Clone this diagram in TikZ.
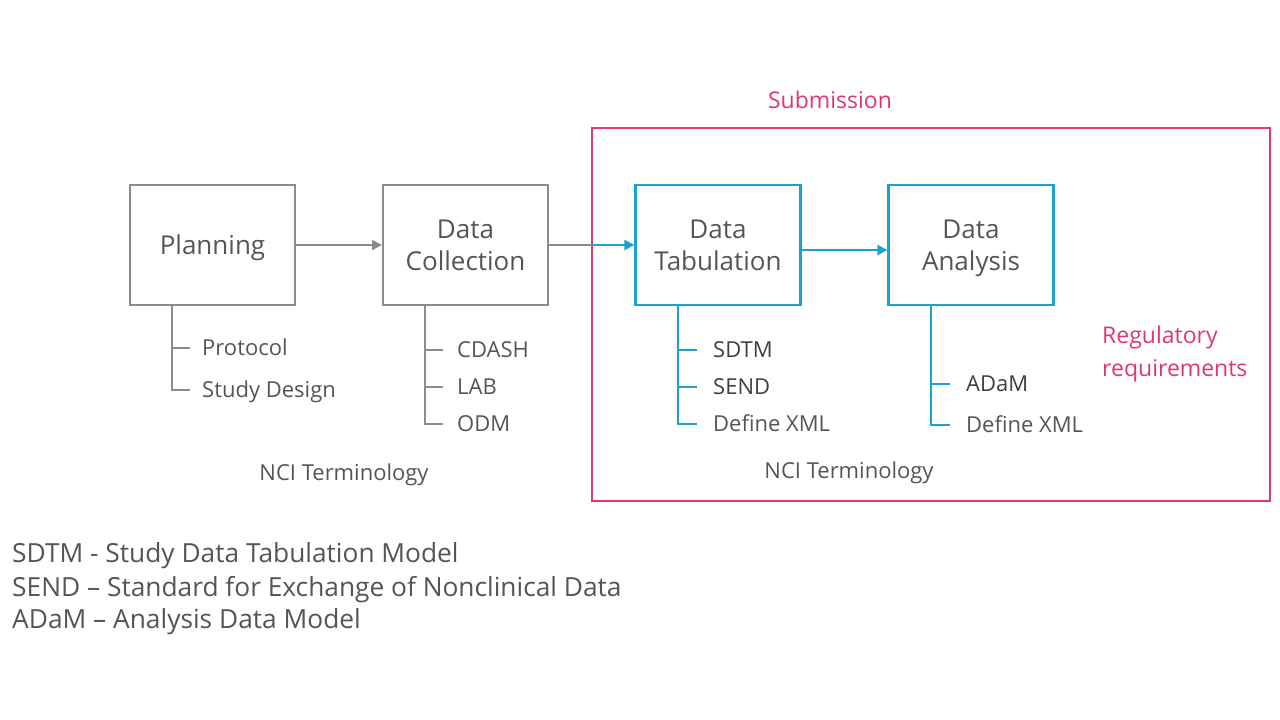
\documentclass[tikz,border=0pt]{standalone}
\usepackage{fontspec}
\setmainfont{Open Sans}
\usetikzlibrary{arrows.meta}
\definecolor{lgray}{HTML}{8C8C8C}
\definecolor{tgray}{HTML}{555555}
\definecolor{cblue}{HTML}{1DA1D0}
\definecolor{cpink}{HTML}{E0386C}
\newcommand{\bstrut}{\rule[-6.7pt]{0pt}{32pt}}
\newcommand{\rstrut}{\rule[-8.3pt]{0pt}{33pt}}
\tikzset{
  graybox/.style={draw=lgray, line width=2pt, minimum width=165pt, minimum height=120pt, inner sep=0pt, align=center, text=tgray, font=\fontsize{26}{32}\selectfont},
  bluebox/.style={graybox, draw=cblue, line width=2.2pt},
  grayline/.style={draw=lgray, line width=2pt},
  blueline/.style={draw=cblue, line width=2.4pt},
  grayarrow/.style={grayline, -{Triangle[length=10pt,width=10pt]}},
  bluearrow/.style={blueline, -{Triangle[length=10pt,width=10pt]}},
  item/.style={anchor=west, text=tgray, font=\fontsize{22}{26}\selectfont, inner sep=0pt, text height=15.8pt, text depth=0pt},
  bitem/.style={item, text=black!75},
  nci/.style={text=tgray, font=\fontsize{22}{26}\selectfont, inner sep=0pt, text height=15.8pt, text depth=0pt},
  pinktext/.style={text=cpink, font=\fontsize{23}{33}\selectfont, inner sep=0pt},
  legend/.style={anchor=west, text=tgray, font=\fontsize{26.3}{33}\selectfont, inner sep=0pt, text height=18.9pt, text depth=0pt}
}
\begin{document}
\begin{tikzpicture}[x=1pt,y=-1pt]
\useasboundingbox (0,0) rectangle (1280,720);
% pink submission frame
\draw[cpink, line width=2.4pt] (592,128) rectangle (1270,501);
\node[pinktext, text height=16.5pt, text depth=0pt] (sub) at (830,100) {Submission};
\node[pinktext, anchor=west, align=left] (reg) at (1102,351.5) {Regulatory\rstrut\\requirements\rstrut};

% boxes
\node[graybox] (plan) at (212.5,245) {Planning\bstrut};
\node[graybox] (coll) at (465.5,245) {Data\bstrut\\Collection\bstrut};
\node[bluebox] (tab) at (718,245) {Data\bstrut\\Tabulation\bstrut};
\node[bluebox] (ana) at (971,245) {Data\bstrut\\Analysis\bstrut};

% arrows
\draw[grayarrow] (plan.east) -- (coll.west);
\coordinate (border) at (592,245);
\draw[grayline] (coll.east) -- (border);
\draw[bluearrow] (border) -- (tab.west);
\draw[bluearrow] (tab.east |- 0,250) -- (ana.west |- 0,250);

% Planning tree
\coordinate (p0) at (172,305);
\coordinate (p1) at (172,348);
\coordinate (p2) at (172,390);
\coordinate (p1e) at (190,348);
\coordinate (p2e) at (190,390);
\draw[grayline] (p0) -- (p2) -- (p2e);
\draw[grayline] (p1) -- (p1e);
\node[item] (protocol) at (202,348) {Protocol};
\node[item] (design) at (202,390) {Study Design};

% Collection tree
\coordinate (c0) at (425,305);
\coordinate (c1) at (425,350);
\coordinate (c2) at (425,387);
\coordinate (c3) at (425,424);
\coordinate (c1e) at (443,350);
\coordinate (c2e) at (443,387);
\coordinate (c3e) at (443,424);
\draw[grayline] (c0) -- (c3) -- (c3e);
\draw[grayline] (c1) -- (c1e);
\draw[grayline] (c2) -- (c2e);
\node[item] (cdash) at (457,350) {CDASH};
\node[item] (lab) at (457,387) {LAB};
\node[item] (odm) at (457,424) {ODM};

% Tabulation tree
\coordinate (t0) at (678,305);
\coordinate (t1) at (678,350);
\coordinate (t2) at (678,387);
\coordinate (t3) at (678,424);
\coordinate (t1e) at (697,350);
\coordinate (t2e) at (697,387);
\coordinate (t3e) at (697,424);
\draw[blueline] (t0) -- (t3) -- (t3e);
\draw[blueline] (t1) -- (t1e);
\draw[blueline] (t2) -- (t2e);
\node[bitem] (sdtm) at (713,350) {SDTM};
\node[bitem] (send) at (713,387) {SEND};
\node[item] (defa) at (713,424) {Define XML};

% Analysis tree
\coordinate (a0) at (931,305);
\coordinate (a1) at (931,384);
\coordinate (a2) at (931,425);
\coordinate (a1e) at (950,384);
\coordinate (a2e) at (950,425);
\draw[blueline] (a0) -- (a2) -- (a2e);
\draw[blueline] (a1) -- (a1e);
\node[bitem] (adam) at (966,384) {ADaM};
\node[item] (defb) at (966,425) {Define XML};

% NCI terminology
\node[nci] (nci1) at (344,473) {NCI Terminology};
\node[nci] (nci2) at (849,471) {NCI Terminology};

% legend
\node[legend] (l1) at (12,553) {SDTM - Study Data Tabulation Model};
\node[legend] (l2) at (12,587) {SEND – Standard for Exchange of Nonclinical Data};
\node[legend] (l3) at (12,619) {ADaM – Analysis Data Model};
\end{tikzpicture}
\end{document}
